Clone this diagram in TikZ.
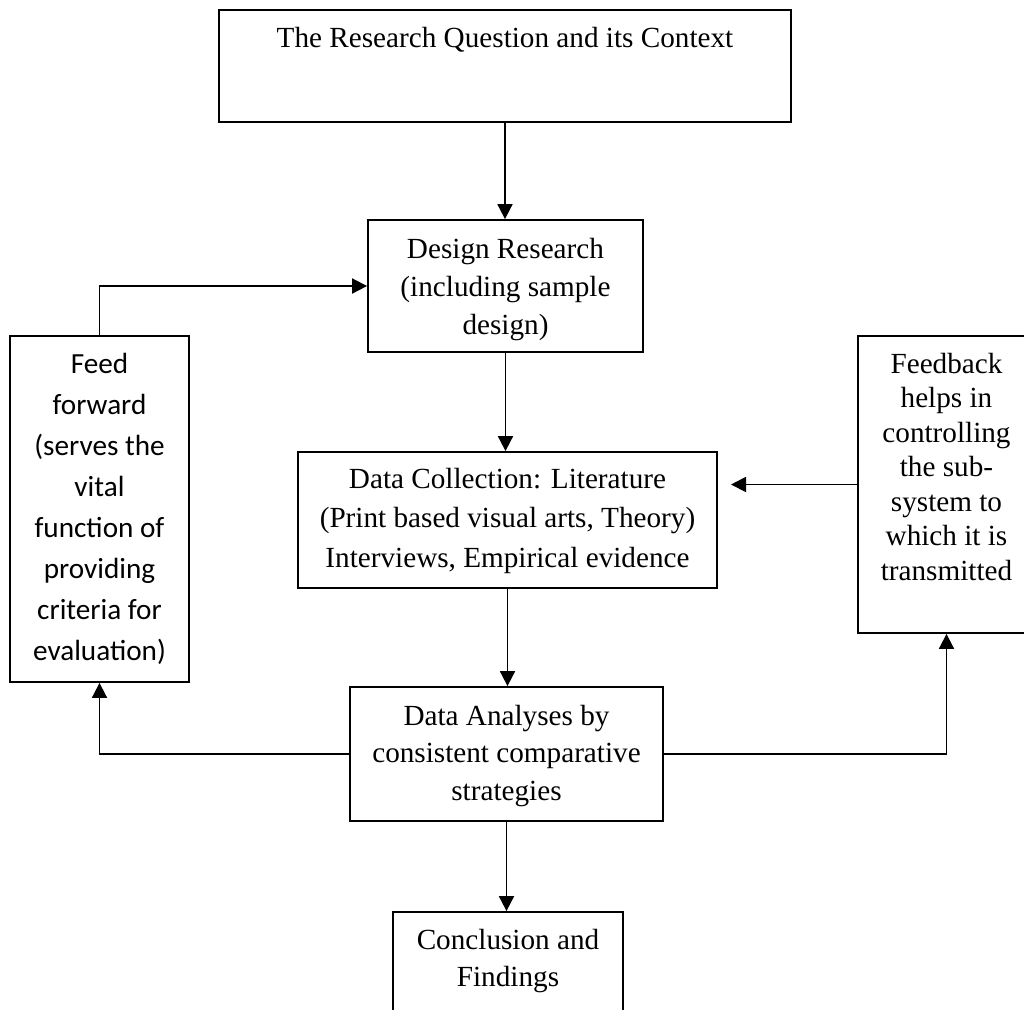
\documentclass[tikz,border=0pt]{standalone}
\usepackage{fontspec}
\setmainfont{Liberation Serif}
\newfontfamily\ffsans{Carlito}
\usetikzlibrary{arrows.meta}

\tikzset{
  box/.style={draw, rectangle, line width=0.9pt, inner sep=0pt},
  txt/.style={align=center, inner sep=0pt},
  arr/.style={line width=0.9pt, -{Triangle[length=7.5pt,width=7.5pt]}},
}

\begin{document}
\begin{tikzpicture}[x=0.5pt, y=-0.5pt]
  \useasboundingbox (0,0) rectangle (1024,1009);

  % boxes
  \node[box, minimum width=286pt, minimum height=56pt]   (top)    at (505,66)    {};
  \node[box, minimum width=137.5pt, minimum height=66pt] (design) at (505.5,286) {};
  \node[box, minimum width=89.5pt, minimum height=173pt] (ff)     at (99.5,509)  {};
  \node[box, minimum width=209.5pt, minimum height=68pt] (dc)     at (507.5,520) {};
  \node[box, minimum width=88.5pt, minimum height=148.5pt] (fb)   at (946.5,484.5) {};
  \node[box, minimum width=156.5pt, minimum height=67pt] (da)     at (506.5,754) {};
  \node[box, minimum width=115pt, minimum height=64pt]   (concl)  at (508,976)   {};

  % texts
  \node[txt, anchor=base, font={\fontsize{14.6}{19}\selectfont}] (topt) at (505,47)
    {The Research Question and its Context};
  \node[txt, font={\fontsize{14.6}{19}\selectfont}] (designt) at (505.5,288.4)
    {\strut Design Research\\\strut (including sample\\\strut design)};
  \node[txt, font={\ffsans\fontsize{14.6}{20.5}\selectfont}] (fft) at (99.5,508.3)
    {\strut Feed\\\strut forward\\\strut (serves the\\\strut vital\\\strut function of\\\strut providing\\\strut criteria for\\\strut evaluation)};
  \node[txt, font={\fontsize{14.6}{19.75}\selectfont}] (dct) at (507.5,519.6)
    {\strut Data Collection: Literature\\\strut (Print based visual arts, Theory)\\\strut Interviews, Empirical evidence};
  \node[txt, font={\fontsize{14.6}{17.25}\selectfont}] (fbt) at (946.5,469.6)
    {\strut Feedback\\\strut helps in\\\strut controlling\\\strut the sub-\\\strut system to\\\strut which it is\\\strut transmitted};
  \node[txt, font={\fontsize{14.6}{18.75}\selectfont}] (dat) at (506.5,755)
    {\strut Data Analyses by\\\strut consistent comparative\\\strut strategies};
  \node[txt, font={\fontsize{14.6}{18.5}\selectfont}] (conclt) at (508,961)
    {\strut Conclusion and\\\strut Findings};

  % free end of the feedback arrow
  \coordinate (fbin) at (731,484.5);

  % connectors
  \draw[arr] (top.south) -- (top.south |- design.north);
  \draw[arr] (design.south) -- (design.south |- dc.north);
  \draw[arr] (dc.south) -- (dc.south |- da.north);
  \draw[arr] (da.south) -- (da.south |- concl.north);
  \draw[arr] (ff.north) |- (design.west);
  \draw[arr] (da.west) -| (ff.south);
  \draw[arr] (da.east) -| (fb.south);
  \draw[arr] (fb.west) -- (fbin);
\end{tikzpicture}
\end{document}
